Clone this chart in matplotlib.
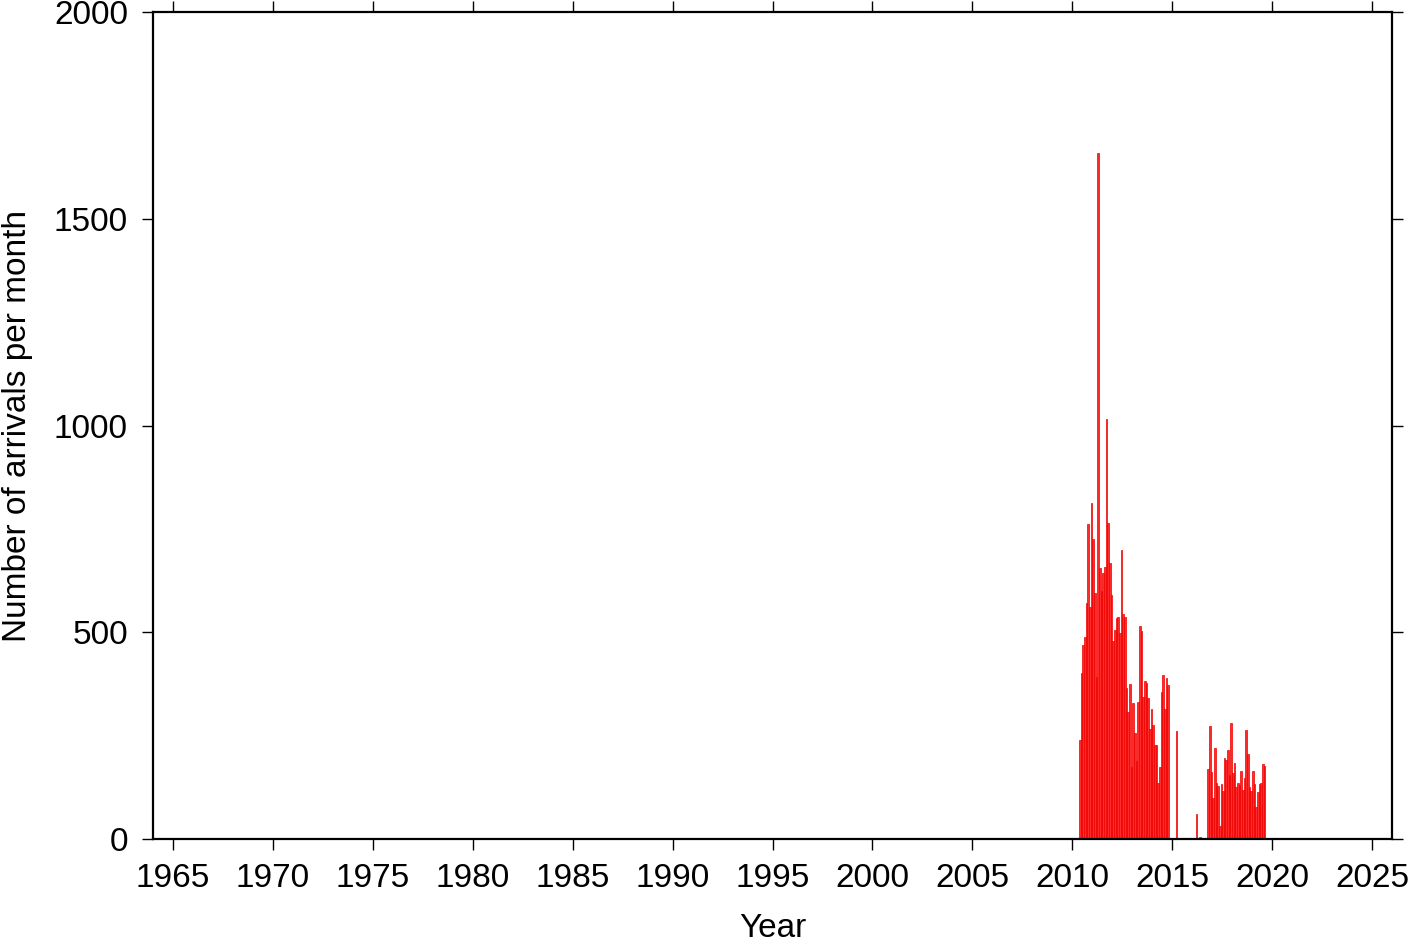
import numpy as np
import matplotlib.pyplot as plt

plt.rcParams['font.family'] = ['Liberation Sans', 'DejaVu Sans']

# monthly arrival counts; first month is May 2010
start_year = 2010
start_month = 5
block1 = [239, 402, 469, 488, 571, 762, 561, 812, 725, 594, 391, 1660,
          655, 600, 643, 658, 1015, 764, 668, 590, 479, 505, 534, 537,
          498, 699, 544, 537, 365, 307, 375, 174, 329, 256, 188, 331,
          515, 504, 344, 383, 378, 341, 266, 314, 276, 227, 228, 135,
          174, 355, 397, 315, 389, 373]
isolated = {58: 261, 70: 60, 72: 5}
block2 = [169, 273, 163, 99, 219, 136, 128, 31, 133, 117, 196, 191,
          215, 156, 280, 159, 185, 127, 136, 130, 165, 119, 148, 264,
          206, 125, 117, 165, 133, 78, 114, 133, 135, 181, 176]
block2_start = 77

counts = np.zeros(block2_start + len(block2))
counts[:len(block1)] = block1
for k, v in isolated.items():
    counts[k] = v
counts[block2_start:] = block2
months = start_year + (start_month - 1) / 12 + np.arange(len(counts)) / 12

fig = plt.figure(figsize=(14.19, 9.42), dpi=100)
ax = fig.add_axes([0.1078, 0.1093, 0.8732, 0.878])

nz = counts > 0
ax.bar(months[nz], counts[nz], width=1/12, align='edge',
       facecolor='#ff2a2a', edgecolor='#ee0000', linewidth=0.5)

ax.set_xlim(1964, 2026)
ax.set_ylim(0, 2000)
ax.set_xticks(np.arange(1965, 2026, 5))
ax.set_yticks(np.arange(0, 2001, 500))

for s in ax.spines.values():
    s.set_linewidth(1.6)
ax.tick_params(direction='out', length=8, width=1.0, labelsize=24,
               top=True, right=True, pad=9)
ax.tick_params(axis='y', pad=10)

ax.set_xlabel('Year', fontsize=24, labelpad=14)
ax.set_ylabel('Number of arrivals per month', fontsize=24, labelpad=15)

fig.savefig('out.png', dpi=100)
